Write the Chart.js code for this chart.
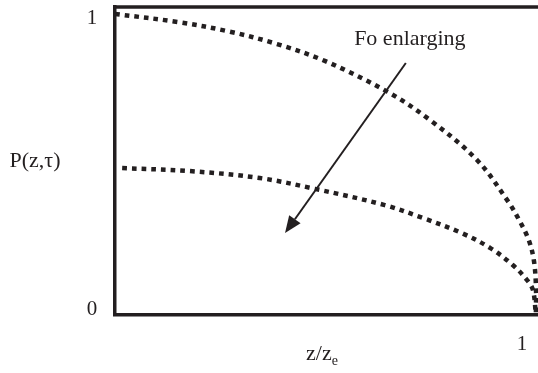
<!DOCTYPE html>
<html>
<head>
<meta charset="utf-8">
<title>P(z,τ) profiles</title>
<script src="https://cdn.jsdelivr.net/npm/chart.js@4.4.1/dist/chart.umd.min.js"></script>
<style>
    html, body { margin: 0; padding: 0; background: #fff; }
    #wrap { width: 538px; height: 373px; }
</style>
</head>
<body>
<div id="wrap"><canvas id="myChart" width="538" height="373"></canvas></div>
<script>
// profile, small Fo
var upperX = [0.0, 0.15, 0.27, 0.385, 0.5, 0.648, 0.748, 0.86, 0.935, 0.96, 0.983, 0.995, 1.0, 1.0];
var upperY = [1.0, 0.973, 0.942, 0.9, 0.843, 0.741, 0.648, 0.515, 0.375, 0.316, 0.249, 0.183, 0.1, 0.0];

// profile, larger Fo
var lowerX = [0.017, 0.178, 0.344, 0.475, 0.641, 0.732, 0.824, 0.891, 0.945, 0.979, 0.993, 1.0];
var lowerY = [0.488, 0.478, 0.455, 0.419, 0.365, 0.322, 0.272, 0.223, 0.166, 0.116, 0.083, 0.0];

// tick labels
var yTickValues = [0, 1];
var yTickLabels = ['0', '1'];
var xTickValues = [1];
var xTickLabels = ['1'];

// arrow (data units) and its note
var arrowFrom = [0.691, 0.837];
var arrowTo = [0.404, 0.272];
var noteText = 'Fo enlarging';

var INK = '#231f20';
var SERIF = "'Liberation Serif', 'Times New Roman', serif";

function toPoints(xs, ys) {
    return xs.map(function (x, i) { return { x: x, y: ys[i] }; });
}

var decor = {
    id: 'decor',
    afterDraw: function (chart) {
        var c = chart.ctx;
        var area = chart.chartArea;
        var xs = chart.scales.x;
        var ys = chart.scales.y;

        c.save();
        // top frame line
        c.strokeStyle = INK;
        c.lineWidth = 3.5;
        c.beginPath();
        c.moveTo(area.left - 1.75, area.top);
        c.lineTo(chart.width, area.top);
        c.stroke();

        c.fillStyle = INK;
        c.font = '21px ' + SERIF;

        // y tick labels, nudged inside the frame
        c.textAlign = 'center';
        c.textBaseline = 'middle';
        var yShift = [-6, 5];
        yTickValues.forEach(function (v, i) {
            c.fillText(yTickLabels[i], 92, ys.getPixelForValue(v) + yShift[i]);
        });

        // x tick labels
        c.textBaseline = 'alphabetic';
        xTickValues.forEach(function (v, i) {
            c.fillText(xTickLabels[i], xs.getPixelForValue(v) - 14, 350);
        });

        // y title
        c.font = '22px ' + SERIF;
        c.textBaseline = 'middle';
        c.fillText('P(z,τ)', 35, (area.top + area.bottom) / 2);

        // x title with subscript
        c.textAlign = 'left';
        c.textBaseline = 'alphabetic';
        var main = 'z/z';
        var mainW = c.measureText(main).width;
        c.font = '14px ' + SERIF;
        var subW = c.measureText('e').width;
        var x0 = 322 - (mainW + subW) / 2;
        c.font = '22px ' + SERIF;
        c.fillText(main, x0, 360);
        c.font = '14px ' + SERIF;
        c.fillText('e', x0 + mainW, 365);

        // arrow
        var ax = xs.getPixelForValue(arrowFrom[0]);
        var ay = ys.getPixelForValue(arrowFrom[1]);
        var bx = xs.getPixelForValue(arrowTo[0]);
        var by = ys.getPixelForValue(arrowTo[1]);
        var ang = Math.atan2(by - ay, bx - ax);
        var headLen = 17, headHalf = 7;
        var baseX = bx - headLen * Math.cos(ang);
        var baseY = by - headLen * Math.sin(ang);
        c.lineWidth = 2;
        c.beginPath();
        c.moveTo(ax, ay);
        c.lineTo(baseX, baseY);
        c.stroke();
        c.beginPath();
        c.moveTo(bx, by);
        c.lineTo(baseX + headHalf * Math.sin(ang), baseY - headHalf * Math.cos(ang));
        c.lineTo(baseX - headHalf * Math.sin(ang), baseY + headHalf * Math.cos(ang));
        c.closePath();
        c.fill();

        // note above the arrow
        c.font = '22px ' + SERIF;
        c.textAlign = 'center';
        c.fillText(noteText, ax + 4, ay - 18);
        c.restore();
    }
};

var lineStyle = {
    showLine: true,
    borderColor: INK,
    borderWidth: 4.5,
    borderDash: [4.7, 5],
    borderCapStyle: 'butt',
    pointRadius: 0,
    tension: 0.35,
    fill: false
};

var ctx = document.getElementById('myChart').getContext('2d');
var chart = new Chart(ctx, {
    type: 'scatter',
    data: {
        datasets: [
            Object.assign({ label: 'upper', data: toPoints(upperX, upperY) }, lineStyle),
            Object.assign({ label: 'lower', data: toPoints(lowerX, lowerY) }, lineStyle)
        ]
    },
    options: {
        responsive: false,
        animation: false,
        devicePixelRatio: 1,
        layout: { padding: { top: 7, right: 0, bottom: 0, left: 0 } },
        plugins: {
            legend: { display: false },
            tooltip: { enabled: false }
        },
        scales: {
            x: {
                type: 'linear',
                min: 0,
                max: 1.005,
                grid: { display: false, drawTicks: false },
                border: { display: true, color: INK, width: 3.5 },
                ticks: { display: false },
                afterFit: function (s) { s.height = 58; }
            },
            y: {
                type: 'linear',
                min: 0,
                max: 1.023,
                grid: { display: false, drawTicks: false },
                border: { display: true, color: INK, width: 3.5 },
                ticks: { display: false },
                afterFit: function (s) { s.width = 115; }
            }
        }
    },
    plugins: [decor]
});
</script>
</body>
</html>
